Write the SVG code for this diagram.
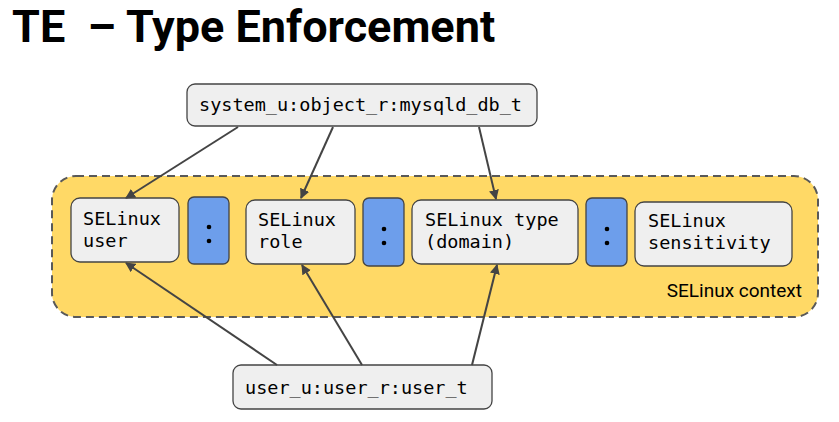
<svg xmlns="http://www.w3.org/2000/svg" width="839" height="422" viewBox="0 0 839 422">
<defs>
<marker id="ah" markerWidth="10" markerHeight="10" refX="9" refY="5" orient="auto" markerUnits="userSpaceOnUse" viewBox="0 0 10 10">
<path d="M0,0 L10,5 L0,10 z" fill="#444"/>
</marker>
<style>
.box{fill:#efefef;stroke:#444;stroke-width:1.3}
.colon{fill:#6d9eeb;stroke:#444;stroke-width:1.3}
.mono{font-family:"DejaVu Sans Mono","Liberation Mono",monospace;font-size:18.5px;fill:#000}
.dot{fill:#000}
.conn{stroke:#444;stroke-width:2;fill:none;marker-end:url(#ah)}
</style>
</defs>
<rect width="839" height="422" fill="#fff"/>
<text x="12" y="42" xml:space="preserve" style="white-space:pre" font-family="Roboto, 'Liberation Sans', sans-serif" font-weight="bold" font-size="45" fill="#000">TE  – Type Enforcement</text>

<g id="context">
<rect x="52" y="176" width="766" height="141" rx="24" fill="#ffd966" stroke="#595959" stroke-width="2" stroke-dasharray="8,5"/>
<text x="802" y="297" text-anchor="end" font-family="Roboto, 'Liberation Sans', sans-serif" font-size="19" fill="#000">SELinux context</text>
</g>

<g id="top">
<rect class="box" x="187" y="84" width="350" height="42" rx="8"/>
<text class="mono" x="199" y="111">system_u:object_r:mysqld_db_t</text>
</g>

<g id="user">
<rect class="box" x="71" y="198" width="108" height="64" rx="9"/>
<text class="mono" x="83" y="225">SELinux</text>
<text class="mono" x="83" y="247">user</text>
</g>
<g id="colon1">
<rect class="colon" x="188" y="197" width="41" height="67" rx="6"/>
<circle class="dot" cx="209" cy="227" r="2.3"/><circle class="dot" cx="209" cy="241" r="2.3"/>
</g>
<g id="role">
<rect class="box" x="246" y="200" width="109" height="64" rx="9"/>
<text class="mono" x="258" y="226">SELinux</text>
<text class="mono" x="258" y="248">role</text>
</g>
<g id="colon2">
<rect class="colon" x="363" y="198" width="41" height="68" rx="6"/>
<circle class="dot" cx="384" cy="229" r="2.3"/><circle class="dot" cx="384" cy="243" r="2.3"/>
</g>
<g id="type">
<rect class="box" x="412" y="200" width="166" height="64" rx="9"/>
<text class="mono" x="425" y="226">SELinux type</text>
<text class="mono" x="425" y="248">(domain)</text>
</g>
<g id="colon3">
<rect class="colon" x="586" y="198" width="41" height="68" rx="6"/>
<circle class="dot" cx="607" cy="229" r="2.3"/><circle class="dot" cx="607" cy="243" r="2.3"/>
</g>
<g id="sensitivity">
<rect class="box" x="635" y="202" width="157" height="64" rx="9"/>
<text class="mono" x="648" y="227">SELinux</text>
<text class="mono" x="648" y="249">sensitivity</text>
</g>

<g id="bottom">
<rect class="box" x="233" y="365" width="259" height="44" rx="8"/>
<text class="mono" x="245" y="394">user_u:user_r:user_t</text>
</g>

<g id="connectors">
<line class="conn" x1="238" y1="127" x2="126" y2="198"/>
<line class="conn" x1="333" y1="127" x2="301" y2="198"/>
<line class="conn" x1="479" y1="127" x2="496" y2="199"/>
<line class="conn" x1="277" y1="365" x2="126" y2="263"/>
<line class="conn" x1="362" y1="365" x2="302" y2="265"/>
<line class="conn" x1="472" y1="365" x2="497" y2="265"/>
</g>
</svg>
